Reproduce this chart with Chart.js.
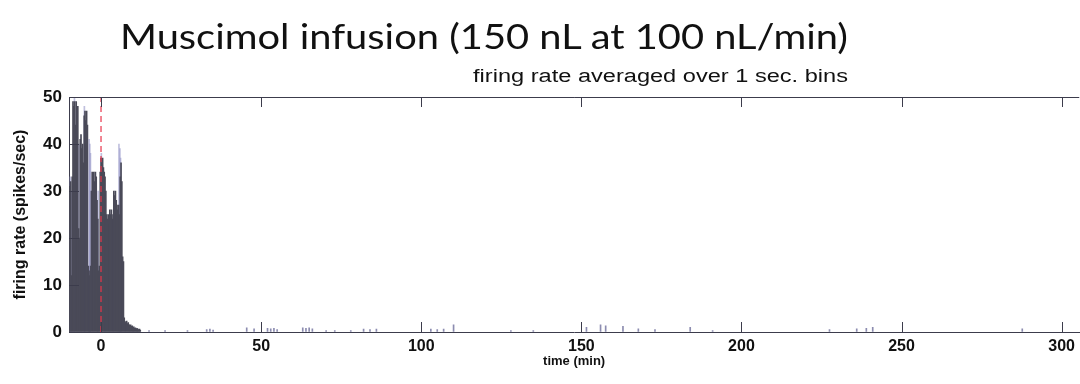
<!DOCTYPE html>
<html><head><meta charset="utf-8">
<script src="https://cdn.jsdelivr.net/npm/chart.js@4.4.1/dist/chart.umd.min.js"></script>
<style>
html,body{margin:0;padding:0;background:#fff;overflow:hidden;width:1080px;height:384px;}
#wrap{position:relative;width:1080px;height:384px;}
#c{position:absolute;left:0;top:0;}
#title{position:absolute;left:120px;top:18px;font-family:'Lato';font-size:35px;line-height:1;color:#111;white-space:nowrap;transform-origin:0 0;}
#sub{position:absolute;left:473px;top:67px;font-family:'Liberation Sans';font-size:18px;line-height:1;color:#111;white-space:nowrap;transform-origin:0 0;}
</style>
</head><body>
<div id="wrap">
<canvas id="c" width="1080" height="384"></canvas>
<div id="title">Muscimol infusion (150 nL at 100 nL/min)</div>
<div id="sub">firing rate averaged over 1 sec. bins</div>
</div>
<script>
// ---- data (minutes, spikes/sec) ----
const earlyStart = -10;      // first bin time (min)
const earlyStep = 0.25;      // spacing of listed bins (min)
const earlyRates = [
  6, 31, 32, 12, 33, 49, 48, 49, 44, 49, 46, 48,
  22, 20, 41, 42, 39, 40, 36, 46, 47, 45, 47, 44,
  14, 13, 12, 14, 30, 34, 33, 34, 32, 34, 33,
  28, 24, 13, 14, 34, 37, 36, 37, 35, 34, 33,
  30, 25, 24, 25, 23, 26, 25, 26, 24, 25,
  30, 29, 30, 28, 27, 26, 27, 25, 33, 36, 32,
  16, 15, 3, 2.2, 2, 2.3, 1.8, 2, 1.6, 1.4, 1.5,
  1.2, 1.3, 1.0, 1.1, 0.8, 0.9, 0.7, 0.8, 0.6, 0.5, 0.6, 0.4
];
const peakTimes = [-9.6, -9.2, -8.3, -6.9, -5.2, -3.7, -3.5, -3.3, -0.9, 0.1, 5.6, 5.9, 6.1];
const peakRates = [33, 30, 50, 40, 48, 41, 40, 38, 30, 38, 40, 39, 37];
const lateTimes = [15, 20, 27, 33, 34, 35, 45.5, 47.8, 52, 53, 54, 55, 63, 64, 65, 66, 70.3, 73, 78,
  82, 84, 86, 103, 105, 107, 110.1, 128, 135, 151.6, 156, 157.6, 163, 167.8, 173, 184, 191,
  227.5, 236, 239, 241, 287.7];
const lateRates = [0.3, 0.3, 0.3, 0.5, 0.6, 0.4, 0.9, 0.7, 0.8, 0.7, 0.8, 0.5, 0.9, 0.8, 0.9, 0.7, 0.3, 0.3, 0.3,
  0.6, 0.5, 0.6, 0.6, 0.5, 0.6, 1.5, 0.3, 0.3, 1.0, 1.5, 1.3, 1.2, 0.7, 0.5, 1.0, 0.3,
  0.5, 0.7, 0.8, 1.0, 0.7];
const xTickValues = [0, 50, 100, 150, 200, 250, 300];
const yTickValues = [0, 10, 20, 30, 40, 50];
const infusionStart = 0;

// ---- build datasets ----
const earlyData = earlyRates.map((r, i) => ({x: earlyStart + i * earlyStep, y: r}));
const peakData = peakTimes.map((t, i) => ({x: t, y: peakRates[i]}));
const lateData = lateTimes.map((t, i) => ({x: t, y: lateRates[i]}));

const axisColor = '#3c3c4c';
const TICK = 10;

const innerTicks = {
  id: 'innerTicks',
  afterDatasetsDraw(chart) {
    const {ctx, chartArea: a, scales: {x, y}} = chart;
    ctx.save();
    ctx.strokeStyle = axisColor;
    ctx.lineWidth = 1;
    ctx.beginPath();
    ctx.moveTo(a.left, Math.round(a.top) + 0.5);
    ctx.lineTo(a.right, Math.round(a.top) + 0.5);
    xTickValues.forEach(v => {
      const px = Math.round(x.getPixelForValue(v)) + 0.5;
      ctx.moveTo(px, a.bottom); ctx.lineTo(px, a.bottom - TICK);
      ctx.moveTo(px, a.top); ctx.lineTo(px, a.top + TICK);
    });
    yTickValues.forEach(v => {
      const py = Math.round(y.getPixelForValue(v)) + 0.5;
      ctx.moveTo(a.left, py); ctx.lineTo(a.left + TICK, py);
    });
    ctx.stroke();
    ctx.restore();
  }
};

Chart.defaults.font.family = "'Liberation Sans', Arial, sans-serif";
Chart.defaults.color = '#111';

new Chart(document.getElementById('c'), {
  type: 'bar',
  data: {
    datasets: [
      {
        type: 'line',
        label: 'infusion start',
        data: [{x: infusionStart, y: 0}, {x: infusionStart, y: 50}],
        borderColor: '#e8344a',
        borderWidth: 1.2,
        borderDash: [6, 4],
        pointRadius: 0,
        order: 0
      },
      {
        label: 'firing rate',
        data: earlyData,
        backgroundColor: '#4a4a58',
        barThickness: 1,
        grouped: false,
        order: 1
      },
      {
        label: 'firing rate peaks',
        data: peakData,
        backgroundColor: 'rgba(150,150,200,0.6)',
        barThickness: 1,
        grouped: false,
        order: 2
      },
      {
        label: 'firing rate late',
        data: lateData,
        backgroundColor: '#8c8cb0',
        barThickness: 1,
        grouped: false,
        order: 1
      }
    ]
  },
  options: {
    responsive: false,
    animation: false,
    events: [],
    layout: {padding: {top: 97, left: 0, right: 0, bottom: 0}},
    plugins: {legend: {display: false}, tooltip: {enabled: false}},
    scales: {
      x: {
        type: 'linear',
        min: -10,
        max: 305.5,
        offset: false,
        afterBuildTicks: s => { s.ticks = xTickValues.map(v => ({value: v})); },
        afterFit: s => { s.height = 52; },
        grid: {display: true, drawOnChartArea: false, drawTicks: false, color: axisColor},
        border: {display: true, color: axisColor, width: 1},
        ticks: {padding: 5, font: {size: 16, weight: 'bold'}, color: '#111', maxRotation: 0},
        title: {display: true, text: 'time (min)', font: {size: 13, weight: 'bold'}, color: '#111', padding: {top: 0, bottom: 15}}
      },
      y: {
        type: 'linear',
        min: 0,
        max: 50,
        afterBuildTicks: s => { s.ticks = yTickValues.map(v => ({value: v})); },
        afterFit: s => { s.width = 69; },
        grid: {display: true, drawOnChartArea: false, drawTicks: false, color: axisColor},
        border: {display: true, color: axisColor, width: 1},
        ticks: {padding: 7, font: {size: 17, weight: 'bold'}, color: '#111'},
        title: {display: true, text: 'firing rate (spikes/sec)', font: {size: 16, weight: 'bold'}, color: '#111', padding: {top: 11, bottom: 0}}
      }
    }
  },
  plugins: [innerTicks]
});

function fit(id, w) {
  const el = document.getElementById(id);
  const cur = el.getBoundingClientRect().width;
  el.style.transform = 'scaleX(' + (w / cur) + ')';
}
fit('title', 728);
fit('sub', 375);
</script>
</body></html>
